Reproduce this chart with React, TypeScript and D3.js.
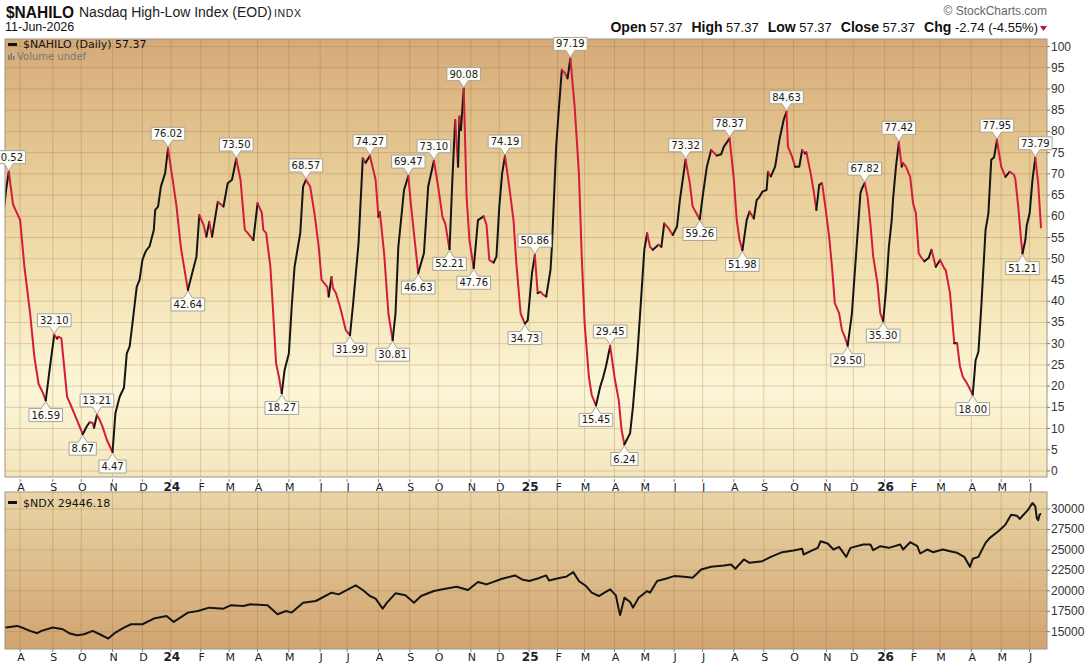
import React from 'react';
import * as d3 from 'd3';

// ---------- DATA ----------
// $NAHILO daily, [session index from 17-Jul-2023, value]
const nahiloPoints: [number, number][] = [
  [0, 62.5], [1, 66], [3, 70.52], [6, 62.8], [11, 59.1], [14, 48.1], [18, 37.2], [21, 26.9], [24, 20.5], [27, 18.4],
  [29, 16.59], [32, 24.6], [35, 32.1], [37, 31.2], [38, 31.6], [40, 31.3], [44, 17.5], [47, 15.2], [51, 12.0], [55, 8.67],
  [58, 10.6], [60, 11.5], [62, 11.3], [63, 10.2], [65, 13.21], [67, 12.0], [69, 10.4], [72, 7.3], [76, 4.47], [78, 13.6],
  [81, 17.5], [84, 19.6], [86, 27.7], [88, 29.3], [90, 34.8], [93, 43.4], [95, 45.0], [97, 49.7], [99, 51.5], [100, 52.1],
  [102, 52.9], [105, 56.8], [106, 61.5], [108, 62.3], [110, 67], [113, 70.2], [115, 76.02], [119, 67], [121, 62.3], [124, 52.8],
  [127, 46.6], [129, 42.64], [132, 46.6], [135, 50.5], [137, 60.3], [140, 58], [142, 55.2], [144, 58.7], [146, 55.2], [150, 63.4],
  [154, 62.3], [157, 67.8], [160, 68.6], [163, 73.5], [166, 68.6], [169, 56.8], [171, 56.1], [175, 54.4], [178, 63.1], [181, 60.8],
  [182, 56.8], [184, 56.1], [187, 48.1], [189, 37.1], [191, 25.4], [193, 22.2], [195, 18.27], [197, 23.8], [200, 27.7], [202, 38.7],
  [204, 48.1], [208, 56], [210, 67], [212, 68.57], [215, 67], [218, 60.7], [221, 52.8], [223, 45], [227, 43.4], [228, 41.1],
  [230, 45.7], [231, 43.1], [233, 42], [236, 38.7], [240, 33.2], [243, 31.99], [245, 38.7], [249, 53.6], [251, 67], [252, 73.7],
  [254, 72.6], [257, 74.27], [261, 68.6], [263, 59.9], [264, 61], [267, 51.3], [270, 37.1], [273, 30.81], [275, 37.1], [277, 52.8],
  [281, 66.2], [284, 69.47], [286, 62.3], [289, 52.8], [291, 46.63], [295, 51.3], [298, 67], [302, 73.1], [305, 67], [308, 59.9],
  [310, 58.3], [313, 52.21], [315, 68.6], [317, 82.7], [319, 71.7], [320, 83.5], [321, 80.3], [323, 90.08], [325, 64.6], [327, 54.4],
  [330, 47.76], [333, 59.1], [337, 60], [339, 58], [341, 49.7], [344, 49.1], [346, 50.5], [348, 62.3], [350, 70.1], [352, 74.19],
  [355, 67], [358, 59.1], [360, 48.9], [363, 37.1], [366, 34.73], [368, 35.5], [371, 46.6], [373, 50.86], [375, 41.9], [377, 42.2],
  [379, 41.5], [381, 41.1], [384, 47.3], [385, 52.8], [388, 76.4], [390, 85.8], [392, 94.5], [394, 93.8], [396, 92.5], [398, 97.19],
  [401, 85.8], [404, 70.1], [406, 50.5], [408, 34.8], [411, 22.2], [413, 17.9], [416, 15.45], [419, 19.9], [421, 22], [423, 24.6],
  [426, 29.45], [429, 22.2], [432, 16.7], [434, 9.7], [436, 6.24], [440, 8.9], [442, 15.1], [445, 26.9], [448, 41.9], [450, 52.1],
  [452, 56], [454, 52.8], [456, 52.1], [460, 53.3], [462, 52.8], [464, 58.3], [467, 57.2], [470, 55.6], [473, 57.6], [475, 63.8],
  [477, 68.6], [479, 73.32], [482, 67.8], [484, 62.3], [489, 59.26], [491, 64.6], [494, 71.7], [497, 75.6], [501, 74.3], [504, 74.6],
  [506, 76.4], [510, 78.37], [513, 68.6], [515, 59.1], [517, 54.4], [519, 51.98], [522, 59.1], [524, 61.1], [527, 59.5], [529, 63.8],
  [531, 64.6], [533, 65.8], [536, 66.2], [537, 70.5], [539, 69.4], [542, 71.7], [545, 78], [548, 82.7], [550, 84.63], [551, 76.4],
  [554, 74], [556, 71.7], [559, 71.7], [561, 75.6], [563, 74.8], [564, 75.1], [567, 70.1], [569, 66.2], [571, 61.5], [573, 67.4],
  [575, 67.8], [577, 63.1], [580, 55.2], [582, 48.1], [584, 39.5], [587, 37.2], [589, 33.2], [591, 31.6], [593, 29.5], [596, 37.1],
  [598, 46.6], [600, 56], [602, 65.4], [603, 66.5], [605, 67.82], [607, 64.6], [609, 58.3], [611, 50.5], [614, 44.2], [616, 37.1],
  [618, 35.3], [620, 42.6], [622, 52.8], [624, 59.1], [625, 64.3], [627, 71.7], [629, 77.42], [631, 71.7], [632, 72.5], [634, 71.7],
  [637, 69.3], [639, 63.1], [641, 60.7], [643, 51.3], [645, 50.2], [647, 49.4], [650, 50.2], [652, 52.1], [654, 49.4], [655, 48.1],
  [658, 49.7], [661, 47.7], [662, 47.3], [665, 41.9], [667, 34], [668, 30.1], [670, 30.1], [672, 24.6], [674, 22.2], [677, 20.6],
  [681, 18.0], [683, 26.1], [685, 28.1], [687, 38.7], [690, 56.8], [692, 60.7], [694, 73.3], [696, 73.9], [698, 77.95], [701, 71.7],
  [704, 69.3], [707, 70.5], [710, 69.8], [711, 68.6], [713, 62.3], [715, 54.4], [716, 51.21], [718, 54.4], [719, 57.9], [721, 60.7],
  [723, 68.6], [725, 73.79], [727, 67.8], [729, 57.37],
];

// annotated highs (up) and lows (down): session index
const nahiloPeaks: number[] = [3, 35, 65, 115, 163, 212, 257, 284, 302, 323, 352, 373, 398, 426, 479, 510, 550, 605, 629, 698, 725];
const nahiloTroughs: number[] = [29, 55, 76, 129, 195, 243, 273, 291, 313, 330, 366, 416, 436, 489, 519, 593, 618, 681, 716];

// $NDX daily closes, [session index, value]
const ndxPoints: [number, number][] = [
  [0, 15600], [1, 15506], [9, 15710], [14, 15384], [18, 15100], [23, 14815], [26, 15100], [34, 15506], [41, 15300], [46, 14775],
  [51, 14570], [56, 14690], [62, 15100], [67, 14690], [73, 14166], [78, 14900], [84, 15506], [89, 15910], [97, 15910], [105, 16602],
  [114, 16927], [119, 16196], [129, 17333], [136, 17536], [144, 17942], [154, 17820], [159, 18226], [168, 18145], [173, 18348], [185, 18226],
  [192, 17130], [198, 17536], [202, 17333], [210, 18551], [219, 18754], [230, 19768], [235, 19566], [247, 20662], [252, 20094], [257, 19362],
  [261, 19040], [266, 17820], [269, 18551], [275, 19688], [282, 19444], [288, 18551], [293, 19362], [302, 19972], [310, 20256], [318, 20500],
  [326, 20094], [333, 21068], [339, 20784], [350, 21474], [359, 21880], [364, 21393], [369, 21190], [375, 21500], [381, 21880], [383, 21271],
  [391, 21596], [395, 21718], [400, 22286], [404, 21190], [409, 20580], [413, 19768], [418, 19362], [422, 19768], [426, 20175], [430, 19444],
  [432, 17739], [433, 17048], [436, 19160], [440, 18632], [442, 17942], [446, 19160], [452, 19972], [454, 19768], [459, 21190], [465, 21474],
  [471, 21799], [478, 21718], [484, 21596], [490, 22610], [497, 22935], [506, 23098], [511, 23220], [514, 22692], [520, 23829], [524, 23423],
  [533, 23626], [539, 24154], [547, 24722], [555, 24925], [561, 25128], [562, 24438], [567, 24844], [572, 25250], [574, 26062], [579, 25777],
  [583, 25047], [587, 25372], [592, 24154], [595, 25250], [604, 25656], [609, 25656], [611, 24966], [616, 25453], [622, 25250], [630, 25656],
  [632, 25047], [637, 25940], [642, 25453], [644, 24560], [649, 25047], [653, 24722], [660, 25047], [665, 24844], [670, 24641], [675, 24154],
  [679, 22935], [681, 23910], [685, 24154], [690, 25859], [693, 26468], [699, 27280], [704, 28092], [708, 29310], [712, 29188], [714, 28782],
  [720, 29919], [723, 30731], [725, 30325], [726, 28904], [727, 28620], [728, 29300], [729, 29446.18],
];

const monthLabels: string[] = ['A', 'S', 'O', 'N', 'D', '24', 'F', 'M', 'A', 'M', 'J', 'J', 'A', 'S', 'O', 'N', 'D', '25', 'F', 'M', 'A', 'M', 'J', 'J', 'A', 'S', 'O', 'N', 'D', '26', 'F', 'M', 'A', 'M', 'J'];
const monthSessions: number[] = [11, 34, 54, 76, 97, 117, 138, 158, 178, 200, 222, 241, 263, 285, 305, 328, 348, 369, 389, 408, 429, 450, 471, 491, 513, 534, 555, 578, 597, 619, 639, 658, 680, 701, 721];

const hiloTicks: number[] = d3.range(0, 101, 5);
const ndxTicks: number[] = [15000, 17500, 20000, 22500, 25000, 27500, 30000];

// ---------- LAYOUT ----------
const W = 1092, H = 665;
const PL = 5, PR = 1047;
const UT = 39, UB = 477;
const LT = 492, LB = 649;
const FONT_A = '"Liberation Sans", Arial, sans-serif';
const FONT_V = '"DejaVu Sans", Verdana, sans-serif';
const RED = '#d41c3a';
const BLACK = '#151515';

const x = d3.scaleLinear().domain([0, 729]).range([4.5, 1041]);
const yH = d3.scaleLinear().domain([0, 100]).range([471, 46.5]);
const yN = d3.scaleLinear().domain([15000, 30000]).range([631.7, 509]);

type Run = { dir: 'up' | 'down'; pts: [number, number][] };
function directionRuns(pts: [number, number][]): Run[] {
  const out: Run[] = [];
  let cur: [number, number][] = [pts[0]];
  let dir: 'up' | 'down' | null = null;
  for (let i = 1; i < pts.length; i++) {
    const d = pts[i][1] >= pts[i - 1][1] ? 'up' : 'down';
    if (dir === null || d === dir) {
      cur.push(pts[i]);
      dir = d;
    } else {
      out.push({ dir: dir, pts: cur });
      cur = [pts[i - 1], pts[i]];
      dir = d;
    }
  }
  out.push({ dir: dir || 'up', pts: cur });
  return out;
}

function Callout({ session, up }: { session: number; up: boolean }) {
  const p = nahiloPoints.find((d) => d[0] === session)!;
  const px = x(p[0]);
  const py = yH(p[1]);
  const label = p[1].toFixed(2);
  const w = label.replace('.', '').length * 6.36 + 3.2 + 5;
  const h = 13;
  const gap = 8;
  let path: string;
  let ty: number;
  if (up) {
    const b = py - gap, t = b - h;
    path = `M${px - w / 2},${t}H${px + w / 2}V${b}H${px + 4.5}L${px},${py - 1}L${px - 4.5},${b}H${px - w / 2}Z`;
    ty = b - 3;
  } else {
    const t = py + gap, b = t + h;
    path = `M${px - w / 2},${b}H${px + w / 2}V${t}H${px + 4.5}L${px},${py + 1}L${px - 4.5},${t}H${px - w / 2}Z`;
    ty = b - 3;
  }
  return (
    <g>
      <path d={path} fill="#fdfcf6" stroke="#a8a49a" strokeWidth={1} />
      <text x={px} y={ty} textAnchor="middle" fontFamily={FONT_V} fontSize={10} fill="#1a1a1a">{label}</text>
    </g>
  );
}

function MonthAxis({ y }: { y: number }) {
  return (
    <g>
      {monthSessions.map((s, i) => (
        <g key={i}>
          <line x1={x(s)} x2={x(s)} y1={y - 12} y2={y - 9} stroke="#888" />
          <text x={x(s) + 1} y={y} textAnchor="middle" fontFamily={FONT_V} fontSize={monthLabels[i].length > 1 ? 12 : 11}
            fontWeight={monthLabels[i].length > 1 ? 'bold' : 'normal'} fill="#222">{monthLabels[i]}</text>
        </g>
      ))}
    </g>
  );
}

export default function App() {
  const line = d3.line<[number, number]>().x((d) => x(d[0])).y((d) => yH(d[1]));
  const lineN = d3.line<[number, number]>().x((d) => x(d[0])).y((d) => yN(d[1]));
  const runs = directionRuns(nahiloPoints);
  const gridStroke = 'rgba(150,105,55,0.27)';

  return (
    <svg width={W} height={H} viewBox={`0 0 ${W} ${H}`} style={{ position: 'absolute', left: 0, top: 0, background: '#fff' }}>
      <defs>
        <linearGradient id="gU" x1="0" y1="0" x2="0" y2="1">
          <stop offset="0" stopColor="#d5aa78" />
          <stop offset="0.25" stopColor="#e4c690" />
          <stop offset="0.55" stopColor="#f3e2b2" />
          <stop offset="0.8" stopColor="#fcf6d8" />
          <stop offset="1" stopColor="#f4e6bc" />
        </linearGradient>
        <linearGradient id="gL" x1="0" y1="0" x2="0" y2="1">
          <stop offset="0" stopColor="#ead5a6" />
          <stop offset="1" stopColor="#d0a470" />
        </linearGradient>
        <clipPath id="cU"><rect x={PL} y={UT} width={PR - PL} height={UB - UT} /></clipPath>
        <clipPath id="cL"><rect x={PL} y={LT} width={PR - PL} height={LB - LT} /></clipPath>
      </defs>

      {/* header */}
      <text x={6} y={17.5} fontFamily={FONT_A} fontSize={17} fontWeight="bold" fill="#111" textLength={68} lengthAdjust="spacingAndGlyphs">$NAHILO</text>
      <text x={79} y={17} fontFamily={FONT_A} fontSize={14} fill="#222">Nasdaq High-Low Index (EOD)</text>
      <text x={274} y={17} fontFamily={FONT_A} fontSize={10.5} fill="#222" letterSpacing={0.6}>INDX</text>
      <text x={5} y={31} fontFamily={FONT_A} fontSize={12.5} fill="#111">11-Jun-2026</text>
      <text x={1047} y={15} textAnchor="end" fontFamily={FONT_A} fontSize={12} fill="#666">© StockCharts.com</text>
      <text x={1038} y={32} textAnchor="end" fontFamily={FONT_A} fill="#111">
        <tspan fontWeight="bold" fontSize={14}>Open</tspan>
        <tspan fontSize={13}> 57.37</tspan>
        <tspan fontWeight="bold" fontSize={14} dx={9}>High</tspan>
        <tspan fontSize={13}> 57.37</tspan>
        <tspan fontWeight="bold" fontSize={14} dx={9}>Low</tspan>
        <tspan fontSize={13}> 57.37</tspan>
        <tspan fontWeight="bold" fontSize={14} dx={9}>Close</tspan>
        <tspan fontSize={13}> 57.37</tspan>
        <tspan fontWeight="bold" fontSize={14} dx={9}>Chg</tspan>
        <tspan fontSize={13}> -2.74 (-4.55%)</tspan>
      </text>
      <path d="M1040,26 L1047,26 L1043.5,31 Z" fill="#b3164a" />

      {/* upper panel */}
      <rect x={PL} y={UT} width={PR - PL} height={UB - UT} fill="url(#gU)" />
      {hiloTicks.map((t) => (
        <line key={t} x1={PL} x2={PR} y1={yH(t)} y2={yH(t)} stroke={gridStroke} />
      ))}
      {monthSessions.map((s, i) => (
        <line key={i} x1={x(s)} x2={x(s)} y1={UT} y2={UB} stroke={gridStroke} />
      ))}
      <g clipPath="url(#cU)">
        {runs.map((r, i) => (
          <path key={i} d={line(r.pts) || ''} fill="none" stroke={r.dir === 'up' ? BLACK : RED} strokeWidth={2} strokeLinejoin="round" strokeLinecap="round" />
        ))}
      </g>
      <rect x={PL} y={UT} width={PR - PL} height={UB - UT} fill="none" stroke="#a09684" />
      {hiloTicks.map((t) => (
        <g key={t}>
          <line x1={PR} x2={PR + 3} y1={yH(t)} y2={yH(t)} stroke="#777" />
          <text x={PR + 4} y={yH(t) + 4} fontFamily={FONT_A} fontSize={12} fill="#333">{t}</text>
        </g>
      ))}
      <g>
        <rect x={8} y={43} width={9} height={3} fill="#111" />
        <text x={23} y={48} fontFamily={FONT_V} fontSize={11} fill="#111">$NAHILO (Daily) 57.37</text>
        <rect x={8} y={55} width={1.5} height={5} fill="#777" />
        <rect x={10.5} y={53} width={1.5} height={7} fill="#777" />
        <rect x={13} y={56} width={1.5} height={4} fill="#777" />
        <text x={17} y={60} fontFamily={FONT_V} fontSize={10} fill="#777">Volume undef</text>
      </g>
      {nahiloPeaks.map((s) => <Callout key={'p' + s} session={s} up={true} />)}
      {nahiloTroughs.map((s) => <Callout key={'t' + s} session={s} up={false} />)}

      <MonthAxis y={491} />

      {/* lower panel */}
      <rect x={PL} y={LT} width={PR - PL} height={LB - LT} fill="url(#gL)" />
      {ndxTicks.map((t) => (
        <line key={t} x1={PL} x2={PR} y1={yN(t)} y2={yN(t)} stroke={gridStroke} />
      ))}
      {monthSessions.map((s, i) => (
        <line key={i} x1={x(s)} x2={x(s)} y1={LT} y2={LB} stroke={gridStroke} />
      ))}
      <g clipPath="url(#cL)">
        <path d={lineN(ndxPoints) || ''} fill="none" stroke={BLACK} strokeWidth={2} strokeLinejoin="round" />
      </g>
      <rect x={PL} y={LT} width={PR - PL} height={LB - LT} fill="none" stroke="#a09684" />
      {ndxTicks.map((t) => (
        <g key={t}>
          <line x1={PR} x2={PR + 3} y1={yN(t)} y2={yN(t)} stroke="#777" />
          <text x={PR + 4} y={yN(t) + 4} fontFamily={FONT_A} fontSize={12} fill="#333">{t}</text>
        </g>
      ))}
      <rect x={8} y={501} width={9} height={3} fill="#111" />
      <text x={23} y={507} fontFamily={FONT_V} fontSize={11} fill="#111">$NDX 29446.18</text>

      <MonthAxis y={661} />
    </svg>
  );
}
